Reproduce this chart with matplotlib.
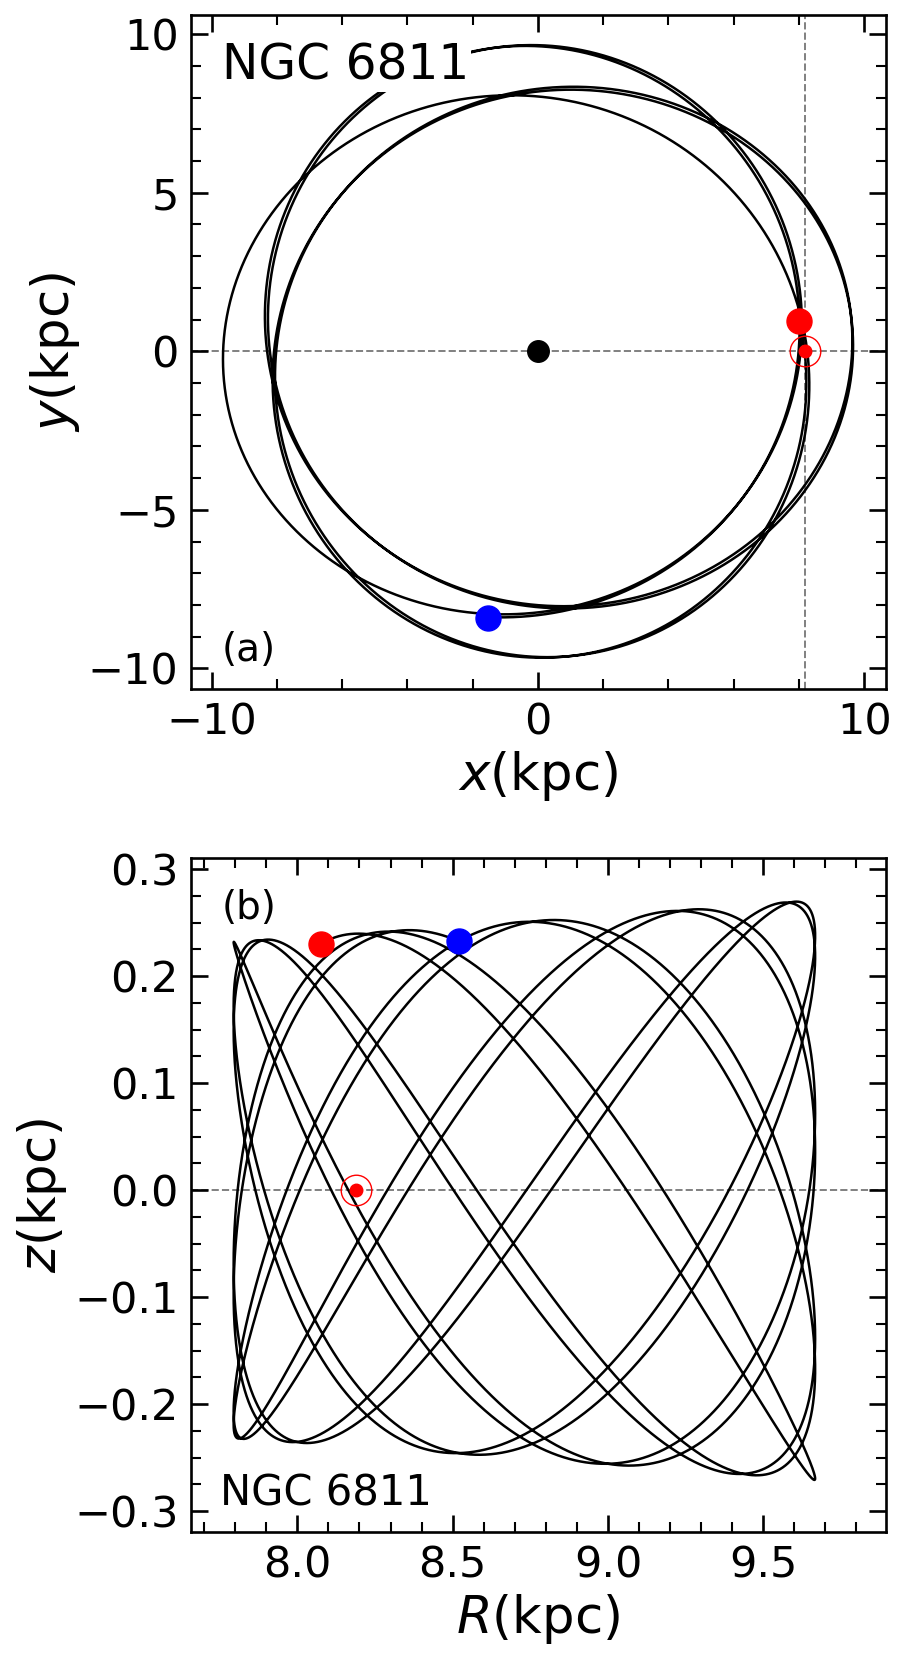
import numpy as np
import matplotlib
matplotlib.use("Agg")
import matplotlib.pyplot as plt
from matplotlib.ticker import MultipleLocator

# ---------------- values ----------------
# orbit envelope in the meridional plane
R_peri, R_apo = 7.795, 9.667          # kpc
z_inner, z_outer = 0.232, 0.271       # |z|max at R_peri and at R_apo (kpc)
n_apocentres = 7                      # apocentre passages between birth and today
n_vertical = 11                       # vertical oscillations between birth and today
n_revolutions = 6                     # full turns around the Galactic centre
z_rising_at_birth = True
z_rising_today = False

# present position (red) and birth position (blue)
red_xy = (7.99, 0.96)
blue_xy = (-1.53, -8.42)
red_Rz = (8.075, 0.230)
blue_Rz = (8.52, 0.2326)

sun_x = 8.19
gc_xy = (0.0, 0.0)

label_name = "NGC 6811"

# ---------------- orbit (epicyclic approximation) ----------------
Rg = 0.5 * (R_peri + R_apo)
A = 0.5 * (R_apo - R_peri)
th0 = -np.arccos((Rg - blue_Rz[0]) / A)
thT = 2 * np.pi * n_apocentres - np.arccos((Rg - red_Rz[0]) / A)
phi_b = np.arctan2(blue_xy[1], blue_xy[0]) % (2 * np.pi)
phi_r = np.arctan2(red_xy[1], red_xy[0]) + 2 * np.pi * n_revolutions
k = ((thT - th0) + (2 * A / Rg) * (np.sin(thT) - np.sin(th0))) / (phi_r - phi_b)
tauT = (thT - th0) / k
tau = np.linspace(0.0, tauT, 40000)
theta = th0 + k * tau
R = Rg - A * np.cos(theta)
phi = phi_b + tau + (2 * A / (k * Rg)) * (np.sin(theta) - np.sin(th0))
x = R * np.cos(phi)
y = R * np.sin(phi)

four_h = 2 * A / np.log(z_outer / z_inner)
Zg = np.sqrt(z_inner * z_outer)
Zamp = Zg * np.exp((R - Rg) / four_h)
nu_w = (Zg / Zamp) ** 2
I = np.concatenate([[0.0], np.cumsum(0.5 * (nu_w[1:] + nu_w[:-1]) * np.diff(tau))])
Zb = Zg * np.exp((blue_Rz[0] - Rg) / four_h)
Zr = Zg * np.exp((red_Rz[0] - Rg) / four_h)
psi0 = np.arccos(blue_Rz[1] / Zb) * (-1 if z_rising_at_birth else 1)
psiT = 2 * np.pi * n_vertical + np.arccos(red_Rz[1] / Zr) * (-1 if z_rising_today else 1)
psi = psi0 + (psiT - psi0) * I / I[-1]
z = Zamp * np.cos(psi)

# ---------------- figure ----------------
plt.rcParams["font.family"] = ["DejaVu Sans"]
plt.rcParams["mathtext.fontset"] = "dejavusans"
fig = plt.figure(figsize=(9.03, 16.71), dpi=100)
ax1 = fig.add_axes([0.2116, 0.5875, 0.7692, 0.4034])
ax2 = fig.add_axes([0.2116, 0.0832, 0.7692, 0.4031])

TICK_FS = 31
LAB_FS = 37
LW = 1.8
dash_kw = dict(color="gray", ls="--", lw=1.4, zorder=1)

# panel (a)
ax1.axhline(0, **dash_kw)
ax1.axvline(sun_x, **dash_kw)
ax1.plot(x, y, color="black", lw=LW, zorder=2)
ax1.plot(*gc_xy, "o", color="black", ms=15.5, zorder=4)
ax1.plot(*red_xy, "o", color="red", ms=18, zorder=4)
ax1.plot(*blue_xy, "o", color="blue", ms=18, zorder=4)
ax1.plot(sun_x, 0, "o", mfc="none", mec="red", ms=22, mew=1.0, zorder=4)
ax1.plot(sun_x, 0, "o", color="red", ms=9, zorder=4)
ax1.set_xlim(-10.63, 10.66)
ax1.set_ylim(-10.66, 10.60)
ax1.xaxis.set_major_locator(MultipleLocator(10))
ax1.xaxis.set_minor_locator(MultipleLocator(2))
ax1.yaxis.set_major_locator(MultipleLocator(5))
ax1.yaxis.set_minor_locator(MultipleLocator(1))
ax1.set_xlabel("$x$(kpc)", fontsize=LAB_FS)
ax1.set_ylabel("$y$(kpc)", fontsize=LAB_FS)
ax1.text(0.044, 0.904, label_name, transform=ax1.transAxes, fontsize=35,
         va="baseline", ha="left", zorder=5,
         bbox=dict(facecolor="white", edgecolor="none", pad=1.5))
ax1.text(0.0445, 0.0426, "(a)", transform=ax1.transAxes, fontsize=28,
         va="baseline", ha="left", zorder=5)

# panel (b)
ax2.axhline(0, **dash_kw)
ax2.plot(R, z, color="black", lw=LW, zorder=2)
ax2.plot(*red_Rz, "o", color="red", ms=18, zorder=4)
ax2.plot(*blue_Rz, "o", color="blue", ms=18, zorder=4)
ax2.plot(sun_x, 0, "o", mfc="none", mec="red", ms=22, mew=1.0, zorder=4)
ax2.plot(sun_x, 0, "o", color="red", ms=9, zorder=4)
ax2.set_xlim(7.658, 9.894)
ax2.set_ylim(-0.3196, 0.310)
ax2.xaxis.set_major_locator(MultipleLocator(0.5))
ax2.xaxis.set_minor_locator(MultipleLocator(0.1))
ax2.yaxis.set_major_locator(MultipleLocator(0.1))
ax2.yaxis.set_minor_locator(MultipleLocator(0.025))
ax2.set_xlabel("$R$(kpc)", fontsize=LAB_FS)
ax2.set_ylabel("$z$(kpc)", fontsize=LAB_FS)
ax2.text(0.0436, 0.9106, "(b)", transform=ax2.transAxes, fontsize=28,
         va="baseline", ha="left", zorder=5)
ax2.text(0.0415, 0.040, label_name, transform=ax2.transAxes, fontsize=30,
         va="baseline", ha="left", zorder=5)

for ax in (ax1, ax2):
    ax.tick_params(which="both", direction="in", top=True, right=True,
                   labelsize=TICK_FS, pad=9)
    ax.tick_params(which="major", length=12, width=1.9)
    ax.tick_params(which="minor", length=7.5, width=1.5)
    for s in ax.spines.values():
        s.set_linewidth(1.9)

fig.savefig("out.png", dpi=100)
